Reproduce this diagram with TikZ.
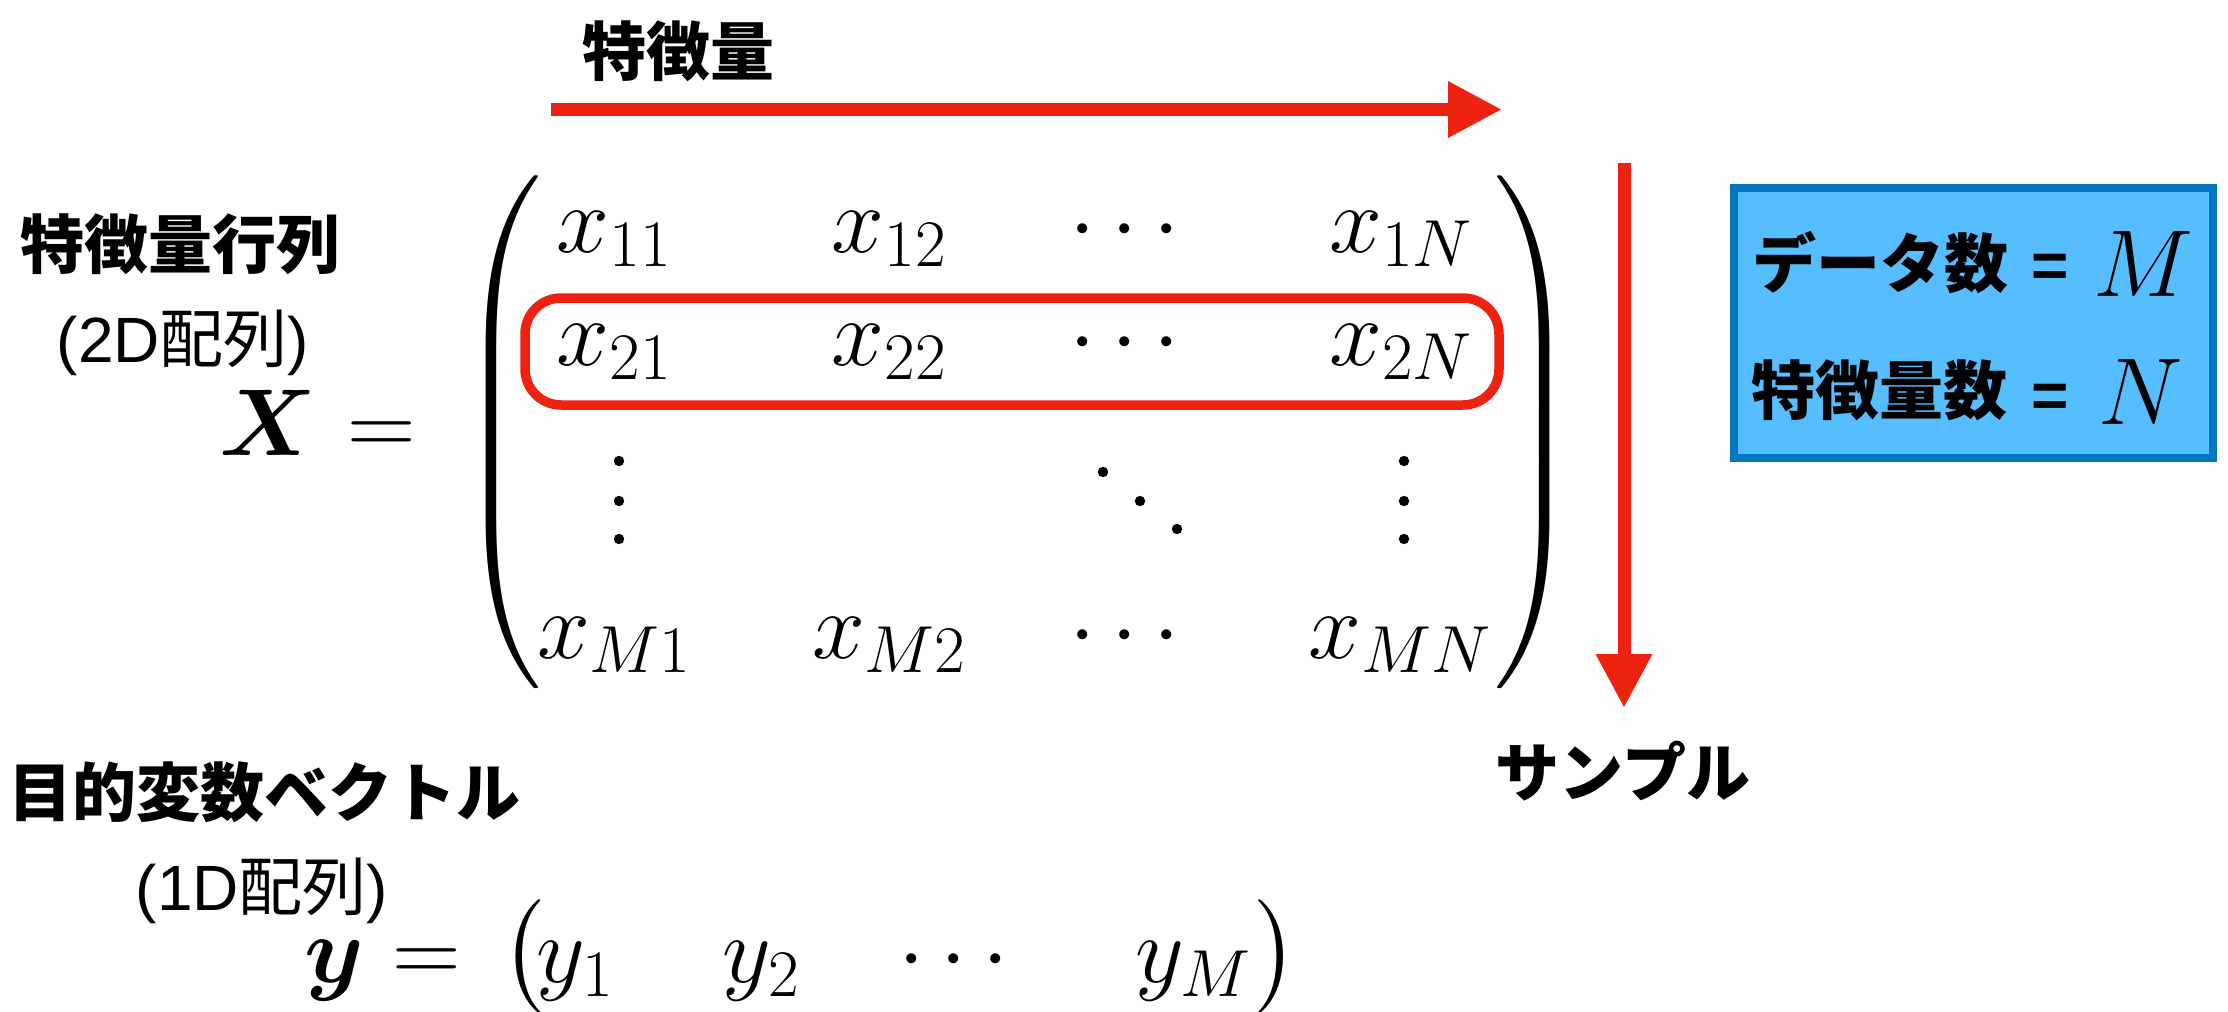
\RequirePackage{fix-cm}
\documentclass[tikz,border=0pt]{standalone}
\usepackage{amsmath}
\usepackage{fontspec}
\DeclareFontShape{OMX}{cmex}{m}{n}{<-> cmex10}{}
\newfontfamily\jp{Noto Sans CJK JP}
\newfontfamily\lat{Liberation Sans}
\usetikzlibrary{arrows.meta}
\delimiterfactor=1000
\delimitershortfall=0pt
\newcommand{\ldelim}[1]{\left(\vcenter{\hbox{\vrule height #1 depth #1 width 0pt}}\right.}
\newcommand{\rdelim}[1]{\left.\vcenter{\hbox{\vrule height #1 depth #1 width 0pt}}\right)}
\definecolor{myred}{RGB}{238,34,17}
\definecolor{boxfill}{RGB}{86,190,255}
\definecolor{boxline}{RGB}{0,119,190}
\tikzset{
  cjkb/.style={font={\jp\bfseries\fontsize{64}{70}\selectfont}, inner sep=0pt},
  cjkr/.style={font={\fontsize{64}{70}\selectfont}, inner sep=0pt},
  mth/.style={font={\fontsize{95}{100}\selectfont}, inner sep=0pt, anchor=base},
  delim/.style={font={\fontsize{95}{100}\selectfont}, inner sep=0pt},
  bigarrow/.style={draw=myred, line width=13pt, -{Triangle[length=54pt,width=53pt]}},
  rowbox/.style={draw=myred, line width=9.5pt, rounded corners=36pt},
  infobox/.style={draw=boxline, fill=boxfill, line width=8pt},
  eqs/.style={font={\lat\bfseries\fontsize{64}{70}\selectfont}, inner sep=0pt}
}
\begin{document}
\begin{tikzpicture}[x=1pt,y=-1pt]
\useasboundingbox (0,0) rectangle (2228,1012);

% arrows
\node[cjkb] (feat) at (678,51) {特徴量};
\coordinate (h0) at (551,109.5);
\coordinate (h1) at (1502,109.5);
\draw[bigarrow] (h0) -- (h1);
\coordinate (v0) at (1624,163);
\coordinate (v1) at (1624,708);
\draw[bigarrow] (v0) -- (v1);
\node[cjkb] (samp) at (1623,771) {サンプル};

% left labels
\node[cjkb] (fmat) at (180,244) {特徴量行列};
\node[cjkr] (arr2) at (183,343) {{\lat (2D}{\jp 配列}{\lat )}};
\node[mth] (X) at (268,455) {$\boldsymbol{X}$};
\node[mth] (eqX) at (382,455) {$=$};

% matrix
\node[delim] (lp) at (501,432) {$\ldelim{250pt}$};
\node[delim] (rp) at (1535,432) {$\rdelim{250pt}$};
\draw[rowbox] (525,298) rectangle (1499,405);

\node[mth] (a11) at (614,252) {$x_{11}$};
\node[mth] (a12) at (889,252) {$x_{12}$};
\node[mth] (a13) at (1133,252) {$\cdots$};
\node[mth] (a1n) at (1401,252) {$x_{1N}$};
\node[mth] (a21) at (614,365) {$x_{21}$};
\node[mth] (a22) at (889,365) {$x_{22}$};
\node[mth] (a23) at (1133,365) {$\cdots$};
\node[mth] (a2n) at (1401,365) {$x_{2N}$};
\node[mth] (am1) at (614,658) {$x_{M1}$};
\node[mth] (am2) at (889,658) {$x_{M2}$};
\node[mth] (am3) at (1133,658) {$\cdots$};
\node[mth] (amn) at (1400,658) {$x_{MN}$};
\foreach \yy in {461,501,539} {
  \fill (619,\yy) circle (5.2pt);
  \fill (1404,\yy) circle (5.2pt);
}
\fill (1103,472) circle (5.2pt);
\fill (1140,501) circle (5.2pt);
\fill (1177,529) circle (5.2pt);

% info box
\draw[infobox] (1734,188) rectangle (2213,458);
\node[cjkb] (dnum) at (1880,263) {データ数};
\node[eqs] (eq1) at (2050,271) {=};
\node[mth] (M) at (2143,296) {$M$};
\node[cjkb] (fnum) at (1879,390) {特徴量数};
\node[eqs] (eq2) at (2050,401) {=};
\node[mth] (N) at (2141,424) {$N$};

% target vector
\node[cjkb] (tvec) at (265,792) {目的変数ベクトル};
\node[cjkr] (arr1) at (262,891) {{\lat (1D}{\jp 配列}{\lat )}};
\node[mth] (yb) at (334,982) {$\boldsymbol{y}$};
\node[mth] (eqy) at (427,982) {$=$};
\node[delim] (ylp) at (524,957) {$\ldelim{55pt}$};
\node[mth] (y1) at (575,982) {$y_1$};
\node[mth] (y2) at (761,982) {$y_2$};
\node[mth] (y3) at (962,982) {$\cdots$};
\node[mth] (ym) at (1193,982) {$y_M$};
\node[delim] (yrp) at (1276,957) {$\rdelim{55pt}$};
\end{tikzpicture}
\end{document}
